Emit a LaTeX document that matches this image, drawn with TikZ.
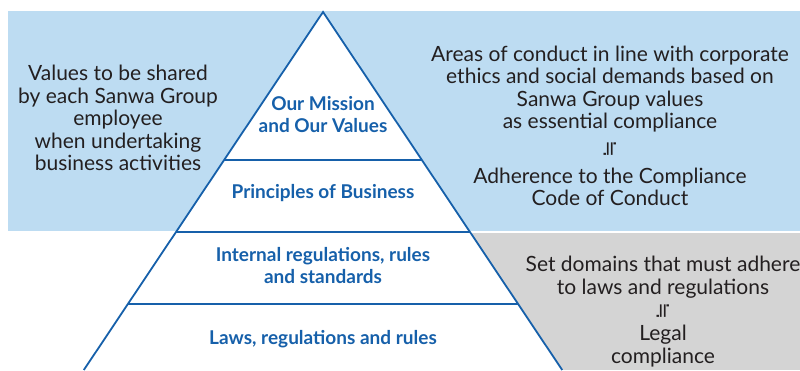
\documentclass[tikz,border=0pt]{standalone}
\usepackage{fontspec}
\usepackage{graphicx}
\usetikzlibrary{calc}
\setmainfont{Lato}
\newfontfamily\symfont{DejaVu Sans}
\definecolor{bandblue}{HTML}{BDDCF2}
\definecolor{bandgray}{HTML}{D4D4D4}
\definecolor{pyrblue}{HTML}{1660AA}
\definecolor{notetext}{HTML}{231F20}

\begin{document}
\begin{tikzpicture}[x=1pt, y=-1pt,
    layer/.style={font=\fontsize{19}{22}\selectfont\bfseries, text=pyrblue, align=center, inner sep=0pt},
    note/.style={font=\fontsize{21}{22.5}\selectfont, text=notetext, align=center, inner sep=0pt},
    equiv/.style={font=\symfont\fontsize{20}{20}\selectfont, text=notetext, inner sep=0pt}]

    \useasboundingbox (0,0) rectangle (800,370);

    % Hintergrundbaender
    \fill[bandblue] (8,11) rectangle (800,231);
    \fill[bandgray] (323,233) rectangle (800,370);

    % Pyramide
    \coordinate (apex) at (323,12);
    \coordinate (bl) at (83.8,370);
    \coordinate (br) at (562.2,370);
    \fill[white] (apex) -- (bl) -- (br) -- cycle;
    \draw[pyrblue, line width=1.8pt] (bl) -- (apex) -- (br);

    % Trennlinien der Stufen
    \foreach \t in {0.4134, 0.6145, 0.8156}
        \draw[pyrblue, line width=1.8pt] ($(apex)!\t!(bl)$) -- ($(apex)!\t!(br)$);

    % Stufen
    \node[layer] (mission) at (323,115) {Our Mission\\and Our Values};
    \node[layer] (principles) at (323,193) {Principles of Business};
    \node[layer] (internal) at (323,266) {Internal regulations, rules\\and standards};
    \node[layer] (laws) at (323,339) {Laws, regulations and rules};

    % Beschreibung links
    \node[note] (values) at (118,118) {Values to be shared\\by each Sanwa Group\\employee\\when undertaking\\business activities};

    % Beschreibung rechts oben
    \node[note] (areas) at (610,89) {Areas of conduct in line with corporate\\ethics and social demands based on\\Sanwa Group values\\as essential compliance};
    \node[equiv] (eqcode) at (610,149) {\rotatebox{90}{≒}};
    \node[note] (code) at (610,187) {Adherence to the Compliance\\Code of Conduct};

    % Beschreibung rechts unten
    \node[note] (domains) at (663,277) {Set domains that must adhere\\to laws and regulations};
    \node[equiv] (eqlegal) at (663,311) {\rotatebox{90}{≒}};
    \node[note] (legal) at (663,346) {Legal\\compliance};

\end{tikzpicture}
\end{document}
